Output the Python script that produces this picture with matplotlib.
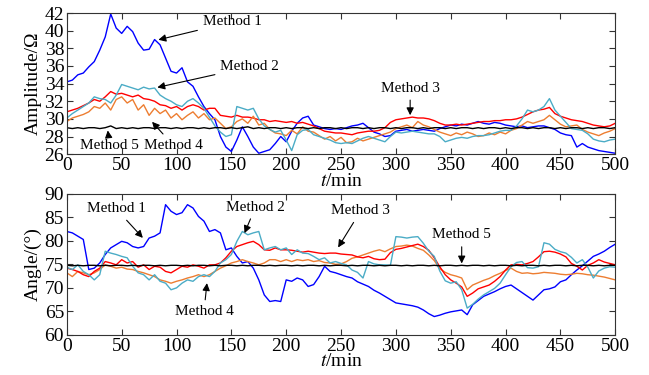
#Libraries
import numpy as np
import matplotlib
matplotlib.use('Agg')
import matplotlib.pyplot as plt

plt.rcParams['font.family'] = ['Liberation Serif', 'DejaVu Serif']
plt.rcParams['mathtext.fontset'] = 'stix'

#Data (t every 5 min, 0..500)
t = np.arange(0, 505, 5)

amp_m1 = [34.2, 34.4, 35.0, 35.2, 35.9, 36.5, 37.8, 39.3, 41.9, 40.3, 39.7, 40.5, 39.9, 38.6, 37.8, 37.9, 39.0,
          38.4, 36.9, 35.4, 35.2, 35.8, 34.2, 33.7, 32.5, 31.4, 30.6, 29.9, 28.0, 26.8, 26.3, 27.6, 29.1, 28.0,
          26.8, 26.1, 26.3, 26.5, 27.2, 28.0, 27.4, 28.6, 29.5, 30.1, 30.3, 29.3, 29.1, 28.9, 28.8, 28.9, 28.8,
          29.0, 29.2, 29.3, 29.5, 29.0, 28.5, 28.3, 28.0, 28.1, 28.6, 28.7, 28.8, 28.6, 28.7, 28.8, 28.7, 28.6,
          28.9, 29.1, 29.3, 29.2, 29.4, 29.3, 29.5, 29.7, 29.5, 29.4, 29.6, 29.5, 29.3, 29.2, 29.1, 29.2, 29.0,
          29.1, 29.2, 29.2, 29.0, 28.8, 28.4, 28.2, 28.1, 26.8, 27.2, 26.8, 26.6, 26.4, 26.3, 26.2, 26.1]
amp_m2 = [30.1, 30.6, 31.0, 31.4, 31.8, 32.5, 32.3, 32.2, 31.8, 32.7, 33.9, 33.7, 33.5, 33.3, 33.6, 33.4, 33.5,
          32.7, 32.3, 32.0, 31.6, 31.4, 32.0, 32.3, 31.8, 31.2, 30.2, 29.2, 28.5, 28.0, 28.2, 31.4, 31.2, 31.0,
          31.2, 30.0, 29.2, 28.8, 28.5, 28.7, 27.6, 26.4, 28.2, 28.7, 28.8, 28.2, 28.0, 27.8, 27.6, 27.3, 27.2,
          27.3, 27.2, 27.5, 27.8, 28.0, 27.8, 27.6, 27.4, 28.0, 28.5, 28.4, 28.5, 28.6, 28.5, 28.4, 28.3, 28.3,
          28.0, 27.4, 27.6, 27.8, 27.9, 27.8, 28.0, 28.1, 28.1, 28.2, 28.4, 28.6, 28.7, 28.7, 29.2, 30.0, 31.0,
          30.8, 31.0, 31.4, 32.3, 31.0, 30.3, 29.6, 28.9, 28.8, 28.7, 28.3, 27.7, 27.5, 27.4, 27.6, 27.7]
amp_m3 = [30.8, 31.0, 31.2, 31.5, 31.8, 32.2, 32.0, 32.5, 33.1, 32.8, 32.9, 32.7, 32.5, 32.7, 32.3, 32.2, 32.0,
          31.6, 31.5, 31.2, 31.4, 31.0, 31.4, 31.6, 31.4, 31.0, 31.2, 31.2, 30.4, 30.3, 30.2, 30.4, 30.2, 30.2,
          30.1, 29.9, 29.9, 29.7, 29.8, 29.7, 29.6, 29.7, 29.5, 29.6, 29.4, 29.2, 28.9, 28.6, 28.5, 28.4, 28.4,
          28.3, 28.2, 28.4, 28.5, 28.6, 28.6, 28.7, 29.0, 29.6, 29.9, 30.0, 30.1, 30.2, 30.1, 30.1, 30.0, 29.8,
          29.5, 29.3, 29.3, 29.4, 29.3, 29.4, 29.5, 29.6, 29.7, 29.7, 29.8, 29.8, 29.9, 29.9, 30.0, 30.2, 30.5,
          30.8, 31.0, 31.1, 31.3, 30.6, 30.3, 30.1, 29.9, 29.8, 29.7, 29.5, 29.3, 29.2, 29.1, 29.2, 29.5]
amp_m4 = [29.7, 30.1, 30.3, 30.5, 30.8, 31.4, 31.2, 31.8, 31.0, 32.2, 32.5, 31.8, 32.2, 31.0, 31.6, 30.4, 31.2,
          30.6, 31.0, 30.1, 30.6, 29.9, 30.4, 30.8, 30.1, 30.6, 29.9, 30.1, 29.5, 28.9, 29.1, 29.7, 30.0, 29.5,
          30.3, 29.3, 29.5, 28.8, 28.4, 28.3, 28.1, 28.7, 28.3, 29.1, 28.6, 28.5, 28.1, 27.7, 28.0, 27.5, 27.9,
          27.3, 27.4, 27.8, 27.5, 27.7, 27.9, 28.1, 28.3, 28.5, 28.9, 29.1, 29.3, 29.0, 29.7, 29.3, 29.1, 28.8,
          28.5, 28.3, 28.1, 28.4, 28.2, 28.5, 28.3, 28.0, 28.1, 28.4, 28.2, 28.5, 28.3, 28.7, 28.9, 29.3, 29.7,
          29.5, 29.7, 29.9, 30.4, 29.9, 29.4, 29.1, 29.2, 29.3, 28.8, 28.5, 28.3, 28.1, 28.4, 28.6, 28.9]
amp_m5 = [29.0, 28.9, 29.0, 28.9, 29.0, 29.0, 28.9, 29.0, 29.2, 28.9, 29.0, 28.9, 29.0, 28.9, 29.0, 29.0, 28.9,
          29.0, 29.0, 28.9, 29.0, 28.9, 29.0, 29.0, 28.9, 29.0, 28.9, 29.0, 29.0, 28.9, 29.0, 28.9, 29.0, 29.1,
          28.9, 29.0, 28.9, 29.0, 29.0, 28.9, 29.0, 28.9, 29.0, 29.0, 28.9, 29.0, 28.9, 29.0, 29.0, 28.9, 29.0,
          28.9, 29.0, 29.0, 28.9, 29.0, 28.9, 29.0, 29.0, 28.9, 29.0, 28.9, 29.0, 29.0, 28.9, 29.0, 28.9, 29.0,
          29.0, 28.9, 29.0, 28.9, 29.0, 29.0, 28.9, 29.0, 28.9, 29.0, 29.0, 28.9, 29.0, 28.9, 29.0, 29.0, 28.9,
          29.0, 28.9, 29.0, 29.0, 28.9, 29.0, 28.9, 29.0, 29.0, 28.9, 29.0, 28.9, 29.0, 29.0, 28.9, 29.0]

ang_m1 = [82.0, 81.7, 81.0, 80.3, 73.9, 74.2, 75.3, 77.1, 78.5, 79.2, 79.9, 79.6, 78.8, 78.5, 78.8, 80.6, 81.0,
          81.7, 87.7, 86.3, 85.6, 86.0, 87.7, 87.0, 85.2, 84.2, 82.0, 82.4, 81.7, 78.1, 78.5, 76.7, 75.3, 75.6,
          74.2, 71.7, 68.5, 67.1, 67.3, 67.1, 71.7, 71.4, 72.1, 71.7, 70.3, 70.7, 72.4, 74.6, 73.5, 73.2, 72.8,
          72.4, 72.1, 71.3, 70.8, 70.3, 69.5, 68.9, 68.2, 67.5, 66.8, 66.6, 66.4, 66.2, 65.9, 65.3, 64.5, 63.9,
          64.2, 64.6, 64.9, 65.1, 65.3, 64.3, 66.4, 67.3, 68.2, 68.7, 69.2, 69.8, 70.3, 70.6, 69.8, 69.0, 68.2,
          67.4, 68.5, 69.6, 69.8, 70.2, 71.3, 71.7, 72.8, 73.8, 74.7, 75.7, 76.7, 77.2, 77.8, 78.6, 79.3]
ang_m2 = [74.4, 73.9, 74.9, 73.5, 72.8, 71.7, 72.8, 77.8, 77.4, 77.1, 76.7, 76.4, 74.6, 73.2, 72.8, 71.7, 72.8,
          71.4, 71.0, 69.6, 70.0, 71.0, 71.7, 71.4, 72.4, 72.8, 72.4, 73.5, 75.3, 76.0, 77.1, 79.9, 82.0, 81.3,
          81.7, 82.0, 78.1, 78.5, 78.8, 78.1, 78.5, 77.1, 78.1, 77.4, 77.3, 76.7, 76.0, 76.4, 75.3, 75.6, 75.2,
          74.9, 73.8, 73.3, 72.1, 75.6, 75.1, 74.9, 74.9, 74.8, 80.9, 80.8, 80.6, 80.8, 80.9, 79.5, 77.8, 76.7,
          73.6, 71.5, 71.0, 71.3, 69.6, 65.7, 66.5, 67.6, 68.5, 69.2, 69.9, 71.0, 72.8, 74.5, 75.4, 75.6, 74.3,
          74.2, 74.5, 79.6, 79.3, 78.2, 77.7, 77.4, 76.5, 75.3, 76.0, 74.4, 72.1, 73.6, 74.2, 74.5, 74.4]
ang_m3 = [74.2, 73.9, 73.5, 72.8, 72.4, 73.5, 74.2, 75.6, 75.3, 74.9, 76.0, 75.3, 75.6, 74.4, 74.9, 73.9, 74.6,
          74.4, 73.5, 73.2, 73.9, 74.6, 74.4, 74.9, 74.6, 74.2, 74.9, 74.9, 75.3, 76.4, 77.8, 78.8, 79.2, 79.6,
          79.9, 79.2, 78.1, 78.0, 78.5, 78.1, 78.1, 78.0, 77.8, 77.6, 77.8, 77.6, 77.4, 77.3, 77.4, 77.4, 77.2,
          77.1, 77.0, 76.6, 76.4, 76.7, 76.2, 76.0, 76.1, 77.5, 78.2, 78.4, 78.7, 79.0, 79.3, 78.8, 78.0, 76.4,
          74.5, 72.8, 71.7, 71.0, 70.2, 68.2, 68.9, 69.8, 70.2, 70.6, 71.4, 72.4, 73.8, 74.9, 75.0, 74.9, 75.2,
          75.6, 76.6, 77.7, 77.8, 77.6, 77.2, 76.6, 75.2, 74.6, 73.8, 74.8, 75.3, 76.0, 75.5, 75.2, 74.9]
ang_m4 = [73.2, 72.4, 73.5, 73.2, 72.8, 73.2, 73.9, 74.9, 74.6, 74.2, 74.4, 74.0, 73.9, 73.5, 73.2, 72.8, 72.4,
          71.7, 71.4, 71.0, 71.4, 71.7, 72.1, 72.4, 72.8, 72.4, 72.8, 73.5, 74.2, 74.7, 75.3, 75.6, 76.0, 75.6,
          75.3, 74.9, 75.3, 76.0, 76.0, 75.6, 76.0, 75.6, 76.0, 75.8, 76.0, 75.6, 75.8, 75.4, 75.3, 75.0, 75.1,
          75.6, 76.3, 76.6, 77.0, 77.4, 77.8, 78.1, 77.7, 78.3, 78.8, 78.9, 79.1, 78.9, 78.4, 78.0, 77.0, 75.8,
          74.1, 73.3, 72.8, 72.5, 72.1, 69.6, 70.6, 71.1, 71.6, 72.0, 72.6, 73.1, 73.7, 74.2, 73.5, 73.1, 73.2,
          73.0, 73.1, 73.3, 73.2, 73.1, 72.9, 72.8, 72.9, 73.1, 73.0, 72.8, 72.7, 72.5, 72.3, 72.0, 71.7]
ang_m5 = [74.8, 74.7, 74.8, 74.7, 74.8, 74.8, 74.7, 74.8, 74.7, 74.8, 74.8, 74.7, 74.8, 74.7, 74.8, 74.8, 74.7,
          74.8, 74.7, 74.8, 74.8, 74.7, 74.8, 74.7, 74.8, 74.8, 74.7, 74.8, 74.7, 74.8, 74.8, 74.7, 74.8, 74.7,
          74.8, 74.8, 74.7, 74.8, 74.7, 74.8, 74.8, 74.7, 74.8, 74.7, 74.8, 74.8, 74.7, 74.8, 74.7, 74.8, 74.8,
          74.7, 74.8, 74.7, 74.8, 74.8, 74.7, 74.8, 74.7, 74.8, 74.8, 74.7, 74.8, 74.7, 74.8, 74.8, 74.7, 74.8,
          74.7, 74.8, 74.8, 74.7, 74.8, 74.7, 74.8, 74.8, 74.7, 74.8, 74.7, 74.8, 74.8, 74.7, 74.8, 74.7, 74.8,
          74.8, 74.7, 74.8, 74.7, 74.8, 74.8, 74.7, 74.8, 74.7, 74.8, 74.8, 74.7, 74.8, 74.7, 74.8, 74.8]

colors = {'m1': '#0000ff', 'm2': '#4bacc6', 'm3': '#ff0000', 'm4': '#ed7d31', 'm5': '#000000'}

#Figure
fig = plt.figure(figsize=(6.49, 3.75), dpi=100)
ax1 = fig.add_axes([0.103, 0.589, 0.845, 0.376])
ax2 = fig.add_axes([0.103, 0.107, 0.845, 0.376])

lw = 1.0

#Amplitude plot
ax1.plot(t, amp_m1, color=colors['m1'], lw=lw)
ax1.plot(t, amp_m3, color=colors['m3'], lw=lw)
ax1.plot(t, amp_m4, color=colors['m4'], lw=lw)
ax1.plot(t, amp_m2, color=colors['m2'], lw=lw)
ax1.plot(t, amp_m5, color=colors['m5'], lw=lw)

#Angle plot
ax2.plot(t, ang_m1, color=colors['m1'], lw=lw)
ax2.plot(t, ang_m4, color=colors['m4'], lw=lw)
ax2.plot(t, ang_m3, color=colors['m3'], lw=lw)
ax2.plot(t, ang_m2, color=colors['m2'], lw=lw)
ax2.plot(t, ang_m5, color=colors['m5'], lw=lw)

#Axes styling
for ax in (ax1, ax2):
    ax.set_xlim(0, 500)
    ax.set_xticks(np.arange(0, 501, 50))
    ax.tick_params(direction='in', top=True, right=True, labelsize=14, length=4, pad=2, color='#333333')
    for s in ax.spines.values():
        s.set_color('#333333')
    ax.set_xlabel('$t$/min', fontsize=14, labelpad=-1)

ax1.set_ylim(26, 42)
ax1.set_yticks(np.arange(26, 43, 2))
ax1.set_ylabel('Amplitude/Ω', fontsize=14, labelpad=2)
ax2.set_ylim(60, 90)
ax2.set_yticks(np.arange(60, 91, 5))
ax2.set_ylabel('Angle/(°)', fontsize=14, labelpad=2)

#Annotations
arw = dict(arrowstyle='-|>', color='black', lw=0.8, mutation_scale=11)
fs = 11
ax1.annotate('Method 1', xy=(81, 38.9), xytext=(124, 41.0), fontsize=fs, va='center', ha='left', arrowprops=arw)
ax1.annotate('Method 2', xy=(80, 33.5), xytext=(140, 35.9), fontsize=fs, va='center', ha='left', arrowprops=arw)
ax1.annotate('Method 3', xy=(313, 30.1), xytext=(313, 33.5), fontsize=fs, va='center', ha='center', arrowprops=arw)
ax1.annotate('Method 5', xy=(37, 29.0), xytext=(39, 27.0), fontsize=fs, va='center', ha='center', arrowprops=arw)
ax1.annotate('Method 4', xy=(76, 29.9), xytext=(97, 27.0), fontsize=fs, va='center', ha='center', arrowprops=arw)

ax2.annotate('Method 1', xy=(71, 80.2), xytext=(45, 86.8), fontsize=fs, va='center', ha='center', arrowprops=arw)
ax2.annotate('Method 2', xy=(161, 81.1), xytext=(172, 87.2), fontsize=fs, va='center', ha='center', arrowprops=arw)
ax2.annotate('Method 3', xy=(246, 78.1), xytext=(268, 86.4), fontsize=fs, va='center', ha='center', arrowprops=arw)
ax2.annotate('Method 5', xy=(360, 74.6), xytext=(360, 81.3), fontsize=fs, va='center', ha='center', arrowprops=arw)
ax2.annotate('Method 4', xy=(128, 71.6), xytext=(125, 64.9), fontsize=fs, va='center', ha='center', arrowprops=arw)

plt.savefig('out.png', dpi=100)
